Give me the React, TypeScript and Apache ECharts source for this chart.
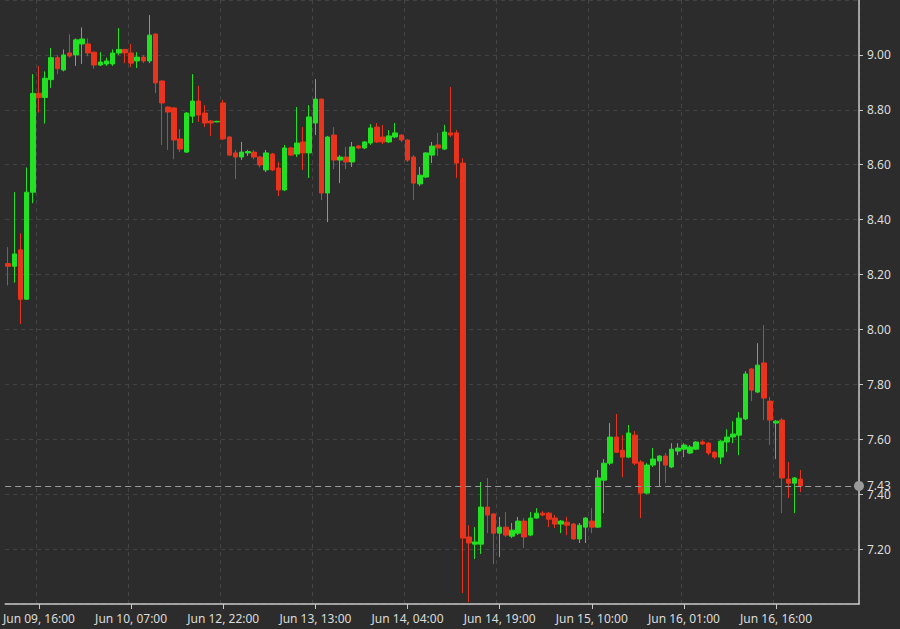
import React, { useEffect, useRef } from "react";
import * as echarts from "echarts";

// Hourly candles (Jun 09 11:00 … Jun 16 20:00), market closed Jun 10 22:00 – Jun 12 21:00
const opens = [
  8.24, 8.23, 8.29, 8.11, 8.5, 8.86, 8.845, 8.91, 8.99, 8.945,
  9.007, 9.0, 9.04, 9.04, 9.01, 8.963, 8.967, 8.967, 9.007, 9.02,
  9.007, 8.978, 8.992, 8.978, 9.076, 8.905, 8.81, 8.807, 8.694, 8.646,
  8.777, 8.832, 8.788, 8.759, 8.756, 8.825, 8.701, 8.643, 8.628, 8.643,
  8.646, 8.628, 8.581, 8.639, 8.588, 8.508, 8.661, 8.639, 8.683, 8.643,
  8.752, 8.839, 8.497, 8.708, 8.617, 8.628, 8.61, 8.668, 8.661, 8.679,
  8.737, 8.701, 8.683, 8.701, 8.708, 8.69, 8.628, 8.53, 8.555, 8.635,
  8.672, 8.657, 8.716, 8.716, 8.606, 7.244, 7.218, 7.218, 7.353, 7.328,
  7.258, 7.28, 7.247, 7.258, 7.302, 7.251, 7.313, 7.331, 7.331, 7.313,
  7.291, 7.298, 7.291, 7.237, 7.28, 7.302, 7.28, 7.451, 7.513, 7.608,
  7.56, 7.535, 7.615, 7.517, 7.404, 7.506, 7.521, 7.539, 7.499, 7.557,
  7.564, 7.55, 7.564, 7.59, 7.586, 7.553, 7.535, 7.59, 7.608, 7.615,
  7.674, 7.856, 7.772, 7.878, 7.739, 7.659, 7.67, 7.455, 7.44, 7.455,
];
const highs = [
  8.3, 8.5, 8.35, 8.59, 8.93, 8.96, 8.94, 9.025, 9.0, 9.02,
  9.075, 9.06, 9.1, 9.06, 9.012, 9.01, 8.99, 9.02, 9.098, 9.022,
  9.04, 9.01, 9.0, 9.145, 9.078, 8.907, 8.812, 8.81, 8.73, 8.792,
  8.93, 8.887, 8.817, 8.763, 8.76, 8.836, 8.703, 8.654, 8.683, 8.654,
  8.654, 8.632, 8.654, 8.643, 8.61, 8.672, 8.665, 8.81, 8.737, 8.817,
  8.912, 8.841, 8.705, 8.737, 8.635, 8.665, 8.683, 8.672, 8.686, 8.748,
  8.752, 8.745, 8.726, 8.752, 8.712, 8.694, 8.635, 8.592, 8.646, 8.683,
  8.716, 8.745, 8.883, 8.726, 8.624, 7.287, 7.28, 7.444, 7.459, 7.331,
  7.317, 7.335, 7.295, 7.317, 7.313, 7.335, 7.349, 7.338, 7.335, 7.324,
  7.306, 7.317, 7.295, 7.295, 7.317, 7.349, 7.488, 7.528, 7.659, 7.692,
  7.615, 7.652, 7.63, 7.524, 7.513, 7.568, 7.542, 7.55, 7.586, 7.586,
  7.586, 7.579, 7.593, 7.597, 7.59, 7.557, 7.597, 7.637, 7.666, 7.699,
  7.848, 7.859, 7.95, 8.016, 7.754, 7.67, 7.677, 7.517, 7.462, 7.488,
];
const lows = [
  8.16, 8.17, 8.02, 8.11, 8.46, 8.79, 8.75, 8.88, 8.93, 8.94,
  8.99, 8.96, 8.967, 8.995, 8.95, 8.96, 8.96, 8.96, 9.0, 8.97,
  8.956, 8.952, 8.97, 8.97, 8.861, 8.672, 8.654, 8.62, 8.646, 8.643,
  8.752, 8.756, 8.737, 8.705, 8.754, 8.69, 8.632, 8.548, 8.617, 8.632,
  8.62, 8.59, 8.573, 8.577, 8.486, 8.504, 8.632, 8.628, 8.581, 8.552,
  8.708, 8.471, 8.391, 8.584, 8.533, 8.584, 8.592, 8.657, 8.657, 8.672,
  8.679, 8.675, 8.679, 8.697, 8.683, 8.61, 8.471, 8.522, 8.552, 8.606,
  8.632, 8.654, 8.701, 8.552, 7.04, 7.007, 7.164, 7.182, 7.258, 7.145,
  7.171, 7.244, 7.24, 7.251, 7.204, 7.247, 7.31, 7.32, 7.28, 7.277,
  7.258, 7.251, 7.233, 7.222, 7.222, 7.258, 7.277, 7.331, 7.506, 7.55,
  7.462, 7.531, 7.506, 7.313, 7.4, 7.499, 7.426, 7.44, 7.495, 7.542,
  7.535, 7.546, 7.561, 7.579, 7.542, 7.528, 7.51, 7.553, 7.586, 7.542,
  7.67, 7.739, 7.768, 7.67, 7.579, 7.528, 7.331, 7.386, 7.331, 7.408,
];
const closes = [
  8.23, 8.275, 8.11, 8.5, 8.86, 8.845, 8.915, 8.99, 8.95, 9.0,
  8.996, 9.055, 9.058, 9.007, 8.963, 8.974, 8.978, 9.007, 9.02, 9.007,
  8.97, 8.992, 8.978, 9.072, 8.898, 8.825, 8.792, 8.69, 8.657, 8.788,
  8.832, 8.781, 8.752, 8.752, 8.758, 8.694, 8.635, 8.628, 8.646, 8.648,
  8.628, 8.599, 8.643, 8.581, 8.508, 8.661, 8.635, 8.679, 8.643, 8.774,
  8.839, 8.497, 8.701, 8.617, 8.628, 8.61, 8.665, 8.661, 8.683, 8.734,
  8.683, 8.683, 8.705, 8.716, 8.69, 8.617, 8.533, 8.562, 8.643, 8.668,
  8.661, 8.719, 8.708, 8.606, 7.24, 7.222, 7.226, 7.353, 7.324, 7.258,
  7.28, 7.251, 7.269, 7.302, 7.244, 7.313, 7.331, 7.324, 7.309, 7.291,
  7.302, 7.287, 7.237, 7.287, 7.313, 7.28, 7.459, 7.513, 7.608, 7.553,
  7.535, 7.623, 7.513, 7.404, 7.506, 7.528, 7.539, 7.506, 7.564, 7.568,
  7.579, 7.572, 7.59, 7.583, 7.55, 7.535, 7.593, 7.608, 7.619, 7.677,
  7.838, 7.779, 7.87, 7.75, 7.67, 7.666, 7.459, 7.44, 7.459, 7.43,
];

const lastPrice = 7.43;
const yTicks = { min: 7.0, max: 9.2, step: 0.2 };
const monthNames = ["Jan", "Feb", "Mar", "Apr", "May", "Jun", "Jul", "Aug", "Sep", "Oct", "Nov", "Dec"];
// trading sessions: [start (UTC), number of hourly slots]
const sessions: [string, number][] = [
  ["2022-06-09T11:00:00Z", 35],
  ["2022-06-12T22:00:00Z", 104],
];
const firstLabelIndex = 5;
const labelEvery = 15;

function fmt(d: Date) {
  const p = (n: number) => String(n).padStart(2, "0");
  return `${monthNames[d.getUTCMonth()]} ${p(d.getUTCDate())}, ${p(d.getUTCHours())}:${p(d.getUTCMinutes())}`;
}

const categories: string[] = [];
sessions.forEach(([start, n]) => {
  const t0 = new Date(start).getTime();
  for (let i = 0; i < n; i++) categories.push(fmt(new Date(t0 + i * 3600000)));
});

const candleData = opens.map((o, i) => [o, closes[i], lows[i], highs[i]]);

const showAt = (i: number) => i >= firstLabelIndex && (i - firstLabelIndex) % labelEvery === 0;

export default function App() {
  const ref = useRef<HTMLDivElement>(null);
  useEffect(() => {
    if (!ref.current) return;
    const chart = echarts.init(ref.current, null, { renderer: "svg" });
    const font = "Noto Sans";
    chart.setOption({
      animation: false,
      backgroundColor: "#2b2c2b",
      grid: { left: -1.5, right: 41, top: 0, bottom: 25, containLabel: false },
      xAxis: {
        type: "category",
        data: categories,
        boundaryGap: true,
        axisLine: { show: true, lineStyle: { color: "#c8c8c8", width: 1.5 } },
        axisTick: { show: true, interval: (i: number) => showAt(i), alignWithLabel: true, length: 5, lineStyle: { color: "#c8c8c8" } },
        axisLabel: { interval: (i: number) => showAt(i), color: "#dcdcdc", fontSize: 12, fontFamily: font, margin: 8 },
        splitLine: { show: true, interval: (i: number) => showAt(i), lineStyle: { color: "#434443", type: [4, 4], width: 1 } },
      },
      yAxis: {
        type: "value",
        position: "right",
        min: yTicks.min,
        max: yTicks.max,
        interval: yTicks.step,
        axisLine: { show: true, lineStyle: { color: "#c8c8c8", width: 1.5 } },
        axisTick: { show: true, length: 4, lineStyle: { color: "#c8c8c8" } },
        axisLabel: {
          color: "#dcdcdc",
          fontSize: 12,
          fontFamily: font,
          margin: 8,
          showMinLabel: false,
          showMaxLabel: false,
          formatter: (v: number) => v.toFixed(2),
        },
        splitLine: { show: true, lineStyle: { color: "#434443", type: [4, 4], width: 1 } },
      },
      series: [
        {
          type: "candlestick",
          data: candleData,
          barWidth: 5,
          itemStyle: {
            color: "#22e022",
            color0: "#e8341c",
            borderColor: "#22e022",
            borderColor0: "#e8341c",
            borderWidth: 1,
          },
          markLine: {
            silent: true,
            symbol: ["none", "circle"],
            symbolSize: 10,
            data: [{ yAxis: lastPrice }],
            lineStyle: { color: "#9a9a9a", type: [6, 4], width: 1 },
            itemStyle: { color: "#9a9a9a" },
            label: {
              show: true,
              position: "end",
              distance: 8,
              formatter: lastPrice.toFixed(2),
              color: "#dcdcdc",
              fontSize: 12,
              fontFamily: font,
            },
          },
        },
      ],
    });
    return () => chart.dispose();
  }, []);
  return <div ref={ref} style={{ position: "fixed", left: 0, top: 0, width: 900, height: 629 }} />;
}
